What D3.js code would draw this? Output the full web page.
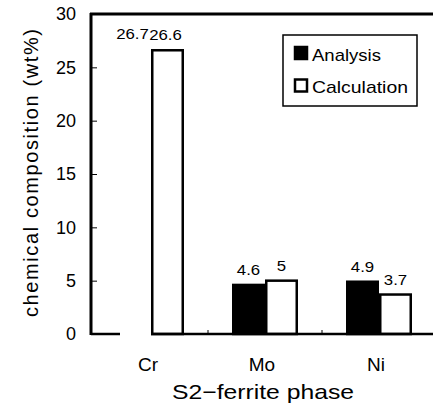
<!DOCTYPE html>
<html>
<head>
<meta charset="utf-8">
<script src="https://cdn.jsdelivr.net/npm/d3@7/dist/d3.min.js"></script>
<style>
  html, body { margin: 0; padding: 0; background: #fff; }
  svg { display: block; font-family: "Liberation Sans", Arial, Helvetica, sans-serif; }
</style>
</head>
<body>
<svg id="chart" width="433" height="404"></svg>
<script>
// Element contents of the S2 ferrite phase (wt%)
const elements = ["Cr", "Mo", "Ni"];
const series = ["Analysis", "Calculation"];
const analysisValues = [26.7, 4.6, 4.9];
const calculationValues = [26.6, 5, 3.7];
const yTicks = [0, 5, 10, 15, 20, 25, 30];

(function () {
const svg = d3.select("#chart");
const W = 433;
const plotLeft = 91, plotTop = 14, plotBottom = 334;

const x0 = d3.scaleBand().domain(elements).range([94, 436]).padding(0);
const half = 33;
const x1 = d3.scaleBand().domain(series)
  .range([x0.bandwidth() / 2 - half, x0.bandwidth() / 2 + half]).padding(0);
const y = d3.scaleLinear().domain([0, 30]).range([plotBottom, plotTop]);

const rows = elements.map((e, i) => ({
  element: e,
  values: [
    { element: e, series: "Analysis", value: analysisValues[i] },
    { element: e, series: "Calculation", value: calculationValues[i] }
  ]
}));

// Y axis with inward ticks
const yAxis = svg.append("g")
  .attr("transform", `translate(${plotLeft},0)`)
  .call(d3.axisLeft(y).tickValues(yTicks).tickSize(-6).tickPadding(15).tickFormat(d3.format("d")));
yAxis.select(".domain").remove();
yAxis.selectAll(".tick line").attr("stroke", "#000").attr("stroke-width", 1);
yAxis.selectAll(".tick text")
  .attr("fill", "#000")
  .style("font-size", "18px")
  .style("font-family", "'Liberation Sans', Arial, sans-serif");

// Small ticks between element groups on the baseline
svg.append("g").selectAll("line")
  .data(elements.slice(1))
  .join("line")
  .attr("x1", d => x0(d)).attr("x2", d => x0(d))
  .attr("y1", plotBottom).attr("y2", plotBottom - 4)
  .attr("stroke", "#000").attr("stroke-width", 1);

// Bars
const groups = svg.append("g").selectAll("g")
  .data(rows)
  .join("g")
  .attr("transform", d => `translate(${x0(d.element)},0)`);

const sw = 2.5;
const isFaded = d => d.series === "Analysis" && d.element === "Cr";
groups.selectAll("rect")
  .data(d => d.values)
  .join("rect")
  .attr("x", d => x1(d.series) + sw / 2)
  .attr("width", x1.bandwidth() - sw)
  .attr("y", d => y(d.value))
  .attr("height", d => y(0) - y(d.value))
  .attr("fill", d => d.series === "Analysis" && !isFaded(d) ? "#000" : "#fff")
  .attr("stroke", d => isFaded(d) ? "none" : "#000")
  .attr("stroke-width", sw);

// Frame: left axis, top border, baseline
const frame = svg.append("g").attr("stroke", "#000").attr("fill", "none");
frame.append("line").attr("x1", plotLeft).attr("x2", plotLeft).attr("y1", plotTop - 1).attr("y2", plotBottom + 1).attr("stroke-width", 3);
frame.append("line").attr("x1", plotLeft - 1).attr("x2", W).attr("y1", plotTop).attr("y2", plotTop).attr("stroke-width", 3);
// baseline drawn in two pieces, broken under the faded Cr analysis bar
const crA = x0("Cr") + x1("Analysis");
frame.append("line").attr("x1", plotLeft).attr("x2", crA + 2).attr("y1", plotBottom).attr("y2", plotBottom).attr("stroke-width", 2.5);
frame.append("line").attr("x1", crA + x1.bandwidth()).attr("x2", W).attr("y1", plotBottom).attr("y2", plotBottom).attr("stroke-width", 2.5);

// Value labels (set slightly wide)
groups.selectAll("text.val")
  .data(d => d.values)
  .join("text")
  .attr("class", "val")
  .attr("transform", d => `translate(${x1(d.series) + x1.bandwidth() / 2 + (d.element === "Cr" ? -2 : 0)},${y(d.value) - 10}) scale(1.2,1)`)
  .attr("text-anchor", "middle")
  .style("font-size", "14px")
  .text(d => d3.format("")(d.value));

// Category labels
svg.append("g").selectAll("text")
  .data(elements)
  .join("text")
  .attr("x", d => x0(d) + x0.bandwidth() / 2 - 3)
  .attr("y", 371)
  .attr("text-anchor", "middle")
  .style("font-size", "19px")
  .text(d => d);

// Axis titles
svg.append("text")
  .attr("x", 172).attr("y", 399)
  .attr("textLength", 182).attr("lengthAdjust", "spacingAndGlyphs")
  .style("font-size", "21px")
  .text("S2\u2212ferrite phase");

svg.append("text")
  .attr("transform", "translate(38,317) rotate(-90)")
  .attr("textLength", 288).attr("lengthAdjust", "spacing")
  .style("font-size", "20px")
  .text("chemical composition (wt%)");

// Legend
const legend = svg.append("g");
legend.append("rect")
  .attr("x", 283).attr("y", 35).attr("width", 134).attr("height", 71)
  .attr("fill", "#fff").attr("stroke", "#000").attr("stroke-width", 1.5);
const legendText = { Analysis: 69, Calculation: 96 };
series.forEach((s, i) => {
  const yy = 47 + i * 32.5;
  legend.append("rect")
    .attr("x", 295).attr("y", yy).attr("width", 12).attr("height", 12)
    .attr("fill", s === "Analysis" ? "#000" : "#fff")
    .attr("stroke", "#000").attr("stroke-width", 2.5);
  legend.append("text")
    .attr("x", 312).attr("y", yy + 13.5)
    .attr("textLength", legendText[s]).attr("lengthAdjust", "spacingAndGlyphs")
    .style("font-size", "17px")
    .text(s);
});
})();
</script>
</body>
</html>
